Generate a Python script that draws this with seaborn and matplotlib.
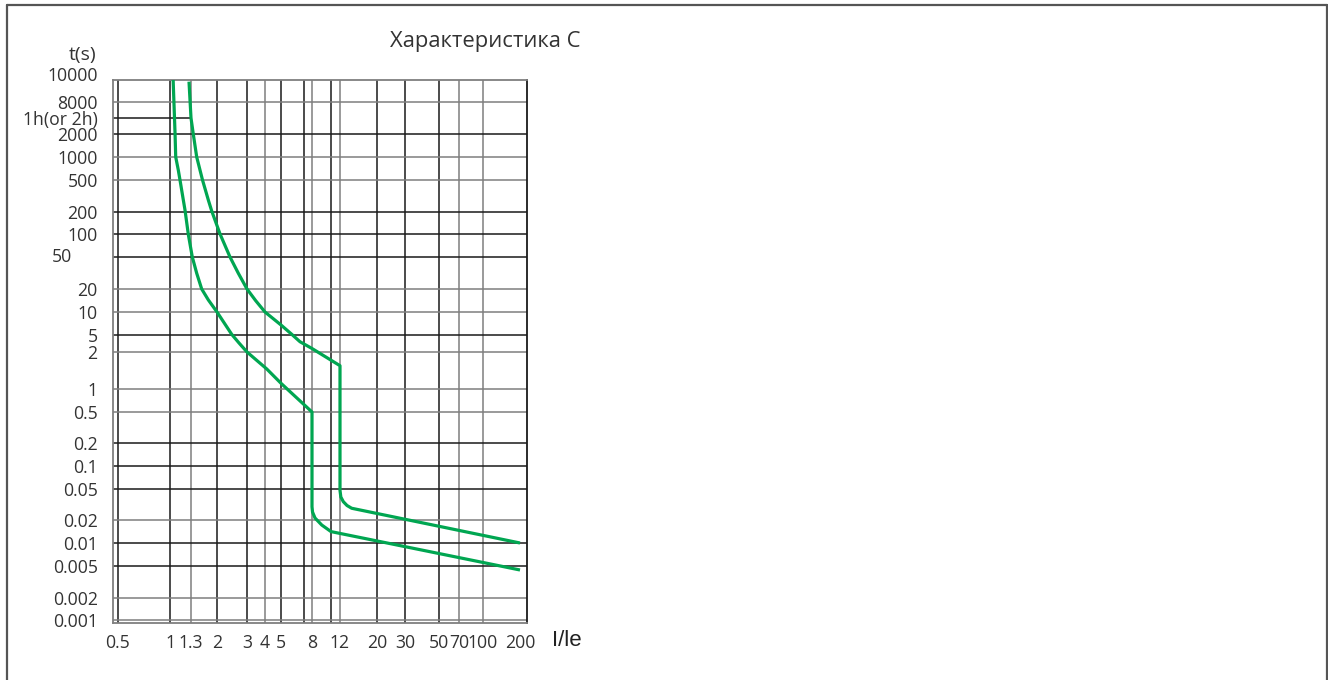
import numpy as np
import matplotlib
matplotlib.use('Agg')
import matplotlib.pyplot as plt
import seaborn as sns
from matplotlib.lines import Line2D

sns.set_style('white')
plt.rcParams['font.family'] = ['Open Sans', 'DejaVu Sans']

# chart data
title = 'Характеристика С'
x_name = 'I/le'
y_name = 't(s)'

x_ticks = [0.5, 1, 1.3, 2, 3, 4, 5, 8, 12, 20, 30, 50, 70, 100, 200]
x_tick_labels = ['0.5', '1', '1.3', '2', '3', '4', '5', '8', '12', '20', '30', '50', '70', '100', '200']
x_unlabeled = [7, 10]

y_ticks = [0.001, 0.002, 0.005, 0.01, 0.02, 0.05, 0.1, 0.2, 0.5, 1, 2, 5, 10, 20,
           50, 100, 200, 500, 1000, 2000, 3600, 8000, 10000]
y_tick_labels = ['0.001', '0.002', '0.005', '0.01', '0.02', '0.05', '0.1', '0.2', '0.5',
                 '1', '2', '5', '10', '20', '50', '100', '200', '500', '1000', '2000',
                 '1h(or 2h)', '8000', '10000']

# lower limit curve
i_low = [1.04, 1.065, 1.074, 1.109, 1.133, 1.181, 1.206, 1.257, 1.328, 1.429, 1.552,
         1.732, 2.0, 2.44, 2.693, 3.0, 4.1, 5.0,
         8.0, 8.0, 8.05, 8.29, 8.97, 10.0, 200]
t_low = [10000, 2050, 1000, 676, 500, 282, 212, 99, 50, 31.4, 20,
         14.4, 10, 5.1, 3.25, 2.0, 1.455, 1.113,
         0.5, 0.0296, 0.0253, 0.0212, 0.0172, 0.0141, 0.00446]

# upper limit curve
i_up = [1.268, 1.3, 1.35, 1.429, 1.573, 1.732, 1.832, 2.084, 2.384, 2.668, 3.0, 3.448,
        4.0, 5.0, 5.848, 6.6, 8.0, 12.0,
        12.0, 12.14, 12.56, 13.22, 14.1, 200]
t_up = [9830, 3600, 2000, 1000, 500, 282, 206, 100, 50, 31.4, 20, 14.06,
        10, 6.76, 5.11, 3.48, 2.415, 1.547,
        0.048, 0.0395, 0.0344, 0.0307, 0.0283, 0.01]

# the paper grid is not a true log scale: piecewise log scale, anchored on the printed lines
x_anchor = [0.45, 0.5, 1, 1.3, 2, 3, 4, 5, 7, 8, 10, 12, 20, 30, 50, 70, 100, 200, 223]
x_anchor_px = [113, 118, 170, 191, 217, 247, 265, 281, 304, 312, 331, 340, 377, 405,
               439, 459, 483, 520, 527]
y_anchor = [0.00095] + y_ticks
y_anchor_px = [623, 620, 598, 566, 543, 520, 489, 466, 443, 412, 389, 352, 335, 312,
               289, 257, 234, 212, 180, 157, 134, 118, 102, 80]

lx = np.log10(x_anchor)
px = np.array(x_anchor_px, dtype=float)
ly = np.log10(y_anchor)
py = -np.array(y_anchor_px, dtype=float)


def fwd_x(v):
    return np.interp(np.log10(np.clip(v, 1e-12, None)), lx, px)


def inv_x(p):
    return 10 ** np.interp(p, px, lx)


def fwd_y(v):
    return np.interp(np.log10(np.clip(v, 1e-12, None)), ly, py)


def inv_y(p):
    return 10 ** np.interp(p, py, ly)


W, H = 1328, 680
fig = plt.figure(figsize=(W / 100, H / 100), dpi=100)
ax = fig.add_axes([113 / W, 1 - 623 / H, (527 - 113) / W, (623 - 80) / H])
ax.set_xscale('function', functions=(fwd_x, inv_x))
ax.set_yscale('function', functions=(fwd_y, inv_y))
ax.set_xlim(0.45, 223)
ax.set_ylim(0.00095, 10000)

dark = '#1a1a1a'
grey = '#7f7f7f'
lw_grid = 1.1

grey_x = {1.3, 4, 8, 12, 70, 100}
for v in sorted(x_ticks[:-1] + x_unlabeled):
    ax.axvline(v, color=grey if v in grey_x else dark, lw=lw_grid, zorder=1)

grey_y = {8000, 1000, 500, 20, 10, 2, 1, 0.5, 0.02, 0.002, 0.001}
for v in y_ticks:
    if v == 3600:
        ax.hlines(v, 0.45, 1.3, color=dark, lw=lw_grid, zorder=1)
    elif v == 10000:
        continue
    else:
        ax.axhline(v, color=grey if v in grey_y else dark, lw=lw_grid, zorder=1)

for side in ['left', 'bottom', 'top']:
    ax.spines[side].set_color(grey)
    ax.spines[side].set_linewidth(1.3)
ax.spines['right'].set_color(dark)
ax.spines['right'].set_linewidth(1.3)

green = '#00a651'
for xs, ys in [(i_low, t_low), (i_up, t_up)]:
    sns.lineplot(x=xs, y=ys, sort=False, estimator=None, color=green, lw=2.3, ax=ax,
                 zorder=3, solid_joinstyle='round', solid_capstyle='butt')

ax.set_xticks(x_ticks, x_tick_labels)
ylabels_shown = [s if s not in ('50', '10000') else '' for s in y_tick_labels]
ax.set_yticks(y_ticks, ylabels_shown)
ax.minorticks_off()
ax.tick_params(axis='both', length=0, labelsize=12.7, labelcolor='#333333')
ax.tick_params(axis='x', pad=8)
ax.tick_params(axis='y', pad=11)
# two labels sit off their lines on the original sheet
ax.annotate('50', xy=(0, 50), xycoords=('axes fraction', 'data'), xytext=(-41, 0),
            textcoords='offset pixels', ha='right', va='center', fontsize=12.7, color='#333333')
ax.annotate('10000', xy=(0, 10000), xycoords=('axes fraction', 'data'), xytext=(-15.5, 4),
            textcoords='offset pixels', ha='right', va='center', fontsize=12.7, color='#333333')
ax.set_xlabel('')
ax.set_ylabel('')

fig.text(485 / W, 1 - 41 / H, title, ha='center', va='center', fontsize=15.8, color='#333333')
fig.text(83 / W, 1 - 55 / H, y_name, ha='center', va='center', fontsize=14, color='#333333')
fig.text(567 / W, 1 - 641 / H, x_name, ha='center', va='center', fontsize=16,
         color='#222222', family='Liberation Sans')

# thin frame around the whole picture
fr = dict(color='#555555', lw=1.6, transform=fig.transFigure)
fig.add_artist(Line2D([6.5 / W, 6.5 / W], [0, 1 - 5 / H], **fr))
fig.add_artist(Line2D([6.5 / W, 1327 / W], [1 - 5 / H, 1 - 5 / H], **fr))
fig.add_artist(Line2D([1327 / W, 1327 / W], [0, 1 - 5 / H], **fr))

fig.savefig('out.png', dpi=100)
